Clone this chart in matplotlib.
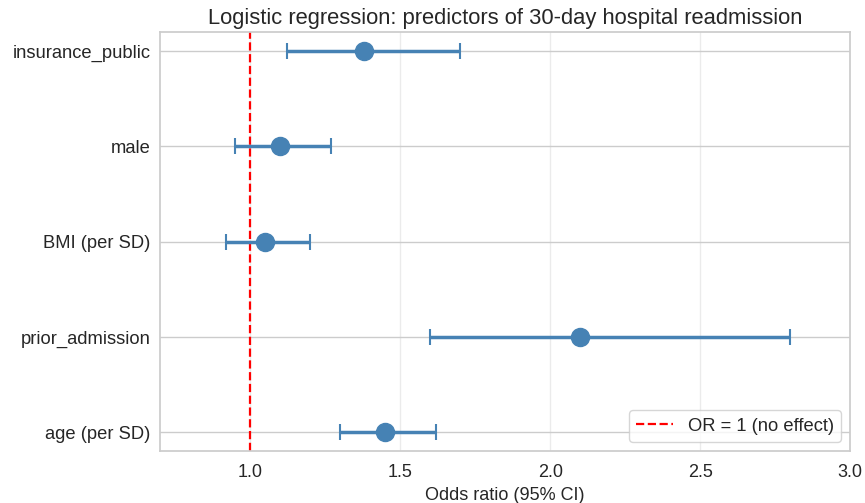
import matplotlib
matplotlib.use("Agg")
import matplotlib.pyplot as plt
import seaborn as sns

predictors = ["age (per SD)", "prior_admission", "BMI (per SD)", "male", "insurance_public"]
odds_ratio = [1.45, 2.10, 1.05, 1.10, 1.38]
ci_low = [1.30, 1.60, 0.92, 0.95, 1.124]
ci_high = [1.62, 2.80, 1.20, 1.27, 1.70]

sns.set_theme(style="whitegrid")
plt.rcParams['font.family'] = ['Arial', 'Liberation Sans', 'DejaVu Sans']

fig, ax = plt.subplots(figsize=(8.65, 5.03), dpi=100)
fig.subplots_adjust(left=0.185, right=0.983, top=0.936, bottom=0.103)

ypos = list(range(len(predictors)))
xerr = [[o - l for o, l in zip(odds_ratio, ci_low)], [h - o for o, h in zip(odds_ratio, ci_high)]]
ax.errorbar(odds_ratio, ypos, xerr=xerr, fmt='o', color='steelblue', ecolor='steelblue',
            markersize=13, elinewidth=2.5, capsize=6, capthick=1.5, zorder=3)
ax.axvline(1.0, color='red', linestyle='--', linewidth=1.6, label='OR = 1 (no effect)', zorder=2)

ax.set_yticks(ypos)
ax.set_yticklabels(predictors, fontsize=13.2)
ax.tick_params(axis='y', pad=0.8)
ax.set_xlim(0.7, 3.0)
ax.set_xticks([1.0, 1.5, 2.0, 2.5, 3.0])
ax.tick_params(axis='x', labelsize=13)
ax.grid(axis='x', color='#ebebeb')
ax.grid(axis='y', color='#cccccc')
ax.set_xlabel("Odds ratio (95% CI)", fontsize=13)
ax.set_title("Logistic regression: predictors of 30-day hospital readmission", fontsize=15.8)
ax.legend(loc='lower right', fontsize=13.2)

fig.savefig("out.png", dpi=100)
